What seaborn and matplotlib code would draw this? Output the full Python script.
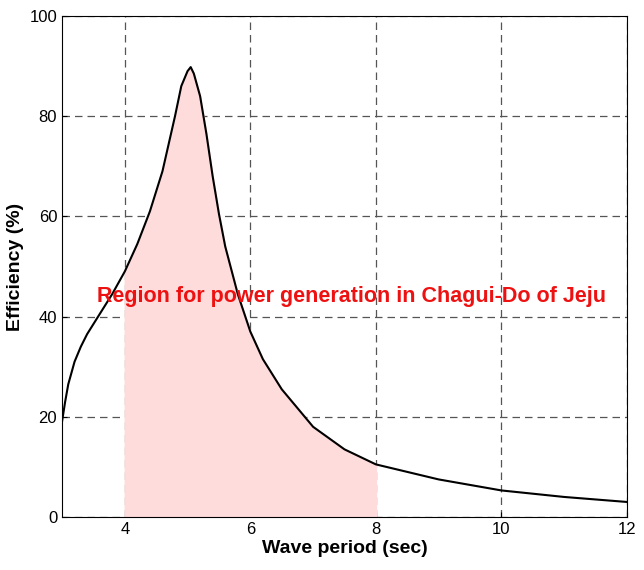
import numpy as np
import matplotlib
matplotlib.use("Agg")
import matplotlib.pyplot as plt
import seaborn as sns
import pandas as pd

period = [3.0, 3.05, 3.1, 3.2, 3.3, 3.4, 3.6, 3.8, 4.0, 4.2, 4.4, 4.6, 4.7, 4.8, 4.9, 5.0, 5.05, 5.1, 5.2, 5.3, 5.4, 5.5, 5.6, 5.8, 6.0, 6.2, 6.5, 7.0, 7.5, 8.0, 9.0, 10.0, 11.0, 12.0]
efficiency = [19.0, 23.0, 26.5, 31.0, 34.0, 36.5, 40.5, 44.5, 49.0, 54.5, 61.0, 69.0, 74.5, 80.0, 86.0, 89.0, 89.8, 88.5, 84.0, 76.5, 68.0, 60.5, 54.0, 44.5, 37.0, 31.5, 25.5, 18.0, 13.5, 10.5, 7.5, 5.3, 4.0, 3.0]
region = (4.0, 8.0)
label = "Region for power generation in Chagui-Do of Jeju"

df = pd.DataFrame({"period": period, "eff": efficiency})
plt.rcParams["font.family"] = "Liberation Sans"
fig = plt.figure(figsize=(6.44, 5.70), dpi=100)
ax = fig.add_axes([62/644, 1-517/570, (627-62)/644, (517-16)/570])
ax.grid(True, color="#555555", linestyle=(0, (6, 4)), linewidth=0.9)
ax.set_axisbelow(True)
mask = (df.period >= region[0]) & (df.period <= region[1])
ax.fill_between(df.period[mask], 0, df.eff[mask], color="#ffdcdc", zorder=1.5)
sns.lineplot(data=df, x="period", y="eff", color="black", lw=1.5, ax=ax, zorder=3)
ax.set_xlim(3, 12)
ax.set_ylim(0, 100)
ax.set_xticks([4, 6, 8, 10, 12])
ax.set_yticks([0, 20, 40, 60, 80, 100])
ax.tick_params(labelsize=12, direction="in")
ax.set_xlabel("Wave period (sec)", fontsize=14, fontweight="bold", labelpad=2)
ax.set_ylabel("Efficiency (%)", fontsize=14, fontweight="bold")
ax.text(3.55, 44, label, color="#ee1111", fontsize=15.5, fontweight="bold", va="center", zorder=4)
fig.savefig("out.png", dpi=100)
